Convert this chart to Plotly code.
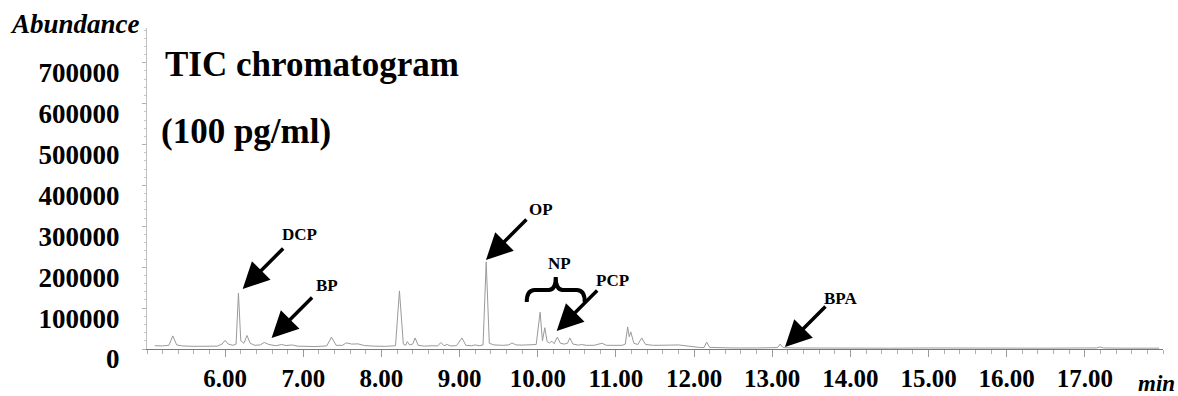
import plotly.graph_objects as go

# ---- chromatogram trace (retention time, abundance) ----
rt_min = [
    5.10, 5.20, 5.28, 5.33, 5.38, 5.45, 5.60, 5.75, 5.90, 5.96, 6.00, 6.04, 6.10, 6.14,
    6.17, 6.20, 6.24, 6.28, 6.32, 6.38, 6.45, 6.50, 6.56, 6.65, 6.72, 6.78, 6.86, 6.92,
    7.00, 7.15, 7.30, 7.36, 7.42, 7.50, 7.55, 7.62, 7.70, 7.78, 7.90, 8.05, 8.18, 8.23,
    8.28, 8.31, 8.33, 8.36, 8.40, 8.43, 8.47, 8.55, 8.65, 8.72, 8.76, 8.80, 8.84, 8.88,
    8.96, 9.03, 9.08, 9.15, 9.20, 9.25, 9.30, 9.34, 9.38, 9.44, 9.55, 9.63, 9.67, 9.72,
    9.80, 9.90, 9.98, 10.03, 10.06, 10.09, 10.12, 10.15, 10.18, 10.21, 10.25, 10.29,
    10.34, 10.38, 10.41, 10.45, 10.52, 10.56, 10.62, 10.72, 10.82, 10.88, 10.98, 11.08,
    11.12, 11.15, 11.17, 11.19, 11.23, 11.28, 11.33, 11.38, 11.48, 11.60, 11.70, 11.80,
    11.90, 12.00, 12.08, 12.13, 12.16, 12.20, 12.30, 12.50, 12.80, 13.00, 13.07, 13.10,
    13.14, 13.30, 13.60, 14.00, 14.50, 15.00, 15.50, 16.00, 16.50, 17.00, 17.15, 17.19,
    17.24, 17.50, 17.95,
]
abundance = [
    8000, 7500, 9000, 32000, 10000, 7500, 6500, 6000, 7000, 12000, 21000, 12000, 9000, 12000,
    137000, 20000, 14000, 33000, 14000, 9000, 10000, 16000, 11000, 8000, 11000, 8500, 10000, 7000,
    6500, 6000, 7500, 29000, 9000, 9000, 15000, 12000, 12500, 8500, 7000, 6500, 8000, 142000,
    12000, 9000, 18000, 10000, 12000, 27000, 9000, 7000, 8000, 7500, 16000, 8000, 11000, 7500,
    8000, 27000, 9000, 8000, 10000, 8000, 10000, 213000, 14000, 10000, 9000, 10000, 15000, 10000,
    9500, 10000, 11000, 90000, 20000, 52000, 18000, 15000, 19000, 13000, 29000, 14000,
    12000, 14000, 27000, 12000, 9500, 11000, 9000, 9000, 14000, 9000, 8500, 9000,
    12000, 54000, 30000, 42000, 14000, 11000, 27000, 11000, 9000, 8500, 9500, 10000,
    8000, 4500, 3500, 4000, 17000, 4000, 3000, 2500, 2500, 2500, 3500, 12000,
    3500, 2500, 2000, 2500, 2000, 2500, 2000, 2500, 2000, 2500, 2500, 5000,
    2500, 2000, 2000,
]

# ---- axis ticks ----
x_tick_vals = [6, 7, 8, 9, 10, 11, 12, 13, 14, 15, 16, 17]
x_tick_text = ["6.00", "7.00", "8.00", "9.00", "10.00", "11.00", "12.00",
               "13.00", "14.00", "15.00", "16.00", "17.00"]
y_tick_vals = [0, 100000, 200000, 300000, 400000, 500000, 600000, 700000]
y_tick_text = ["0", "100000", "200000", "300000", "400000", "500000", "600000", "700000"]

# ---- compound labels (arrow tip and label position in data units) ----
peak_names = ["DCP", "BP", "OP", "PCP", "BPA"]
tip_rt = [6.224, 6.594, 9.337, 10.242, 13.163]
tip_abund = [146700, 26900, 217600, 44000, 4900]
label_rt = [6.952, 7.309, 10.038, 10.957, 13.878]
label_abund = [281000, 156500, 342300, 168700, 124700]
np_label = "NP"
np_label_rt, np_label_abund = 10.281, 210300
np_brace_rt, np_brace_abund = 10.23, 144000

SERIF = "Liberation Serif"

fig = go.Figure()
fig.add_trace(go.Scatter(
    x=rt_min, y=abundance, mode="lines",
    line=dict(color="#9a9a9a", width=1),
    showlegend=False, hoverinfo="skip",
))

annotations = []
for name, tx, ty, lx, ly in zip(peak_names, tip_rt, tip_abund, label_rt, label_abund):
    annotations.append(dict(
        x=tx, y=ty, xref="x", yref="y", text="", showarrow=True,
        ax=42, ay=-42, axref="pixel", ayref="pixel",
        arrowhead=2, arrowsize=1.5, arrowwidth=3.5, arrowcolor="black", standoff=0,
    ))
    annotations.append(dict(
        x=lx, y=ly, xref="x", yref="y", text=f"<b>{name}</b>", showarrow=False,
        font=dict(family=SERIF, size=17, color="black"),
    ))
annotations.append(dict(
    x=np_label_rt, y=np_label_abund, xref="x", yref="y", text=f"<b>{np_label}</b>",
    showarrow=False, font=dict(family=SERIF, size=17, color="black"),
))
annotations += [
    dict(x=163, y=396 - 64, xref="paper", yref="paper", text="<b>TIC chromatogram</b>",
         showarrow=False, xanchor="left", yanchor="middle",
         font=dict(family=SERIF, size=35, color="black")),
    dict(x=159, y=396 - 131, xref="paper", yref="paper", text="<b>(100 pg/ml)</b>",
         showarrow=False, xanchor="left", yanchor="middle",
         font=dict(family=SERIF, size=35, color="black")),
    dict(x=8, y=396 - 24, xref="paper", yref="paper", text="<b><i>Abundance</i></b>",
         showarrow=False, xanchor="left", yanchor="middle",
         font=dict(family=SERIF, size=27, color="black")),
    dict(x=1177, y=396 - 384, xref="paper", yref="paper", text="<b><i>min</i></b>",
         showarrow=False, xanchor="right", yanchor="middle",
         font=dict(family=SERIF, size=23, color="black")),
]

# convert pixel-based paper annotations to paper fractions
W, H = 1178, 396
ML, MR, MT, MB = 147, 15, 28, 47
pw, ph = W - ML - MR, H - MT - MB
for a in annotations:
    if a.get("xref") == "paper":
        a["x"] = (a["x"] - ML) / pw
        a["y"] = (a["y"] - MB) / ph

fig.add_shape(
    type="path", xref="x", yref="y", xsizemode="pixel", ysizemode="pixel",
    xanchor=np_brace_rt, yanchor=np_brace_abund,
    path="M -29,-12 Q -29,0 -21,0 L -7,0 Q 0,0 0,13 Q 0,0 7,0 L 21,0 Q 29,0 29,-12",
    line=dict(color="black", width=4),
)

fig.update_layout(
    width=W, height=H,
    margin=dict(l=ML, r=MR, t=MT, b=MB, pad=0, autoexpand=False),
    paper_bgcolor="white", plot_bgcolor="white",
    annotations=annotations,
    showlegend=False,
)
fig.update_xaxes(
    range=[5.0, 18.0], showgrid=False, zeroline=False, automargin=False,
    showline=True, linecolor="#7a7a7a", linewidth=1,
    tickmode="array", tickvals=x_tick_vals, ticktext=x_tick_text,
    ticks="outside", ticklen=7, tickcolor="#9a9a9a", tickwidth=1,
    minor=dict(dtick=0.2, ticks="outside", ticklen=4, tickcolor="#b0b0b0"),
    tickfont=dict(family=SERIF, size=25, color="black", weight="bold"),
    ticklabelstandoff=0,
)
fig.update_yaxes(
    range=[0, 785000], showgrid=False, zeroline=False, automargin=False,
    showline=True, linecolor="#c0c0c0", linewidth=1,
    tickmode="array", tickvals=y_tick_vals, ticktext=y_tick_text,
    ticks="outside", ticklen=4, tickcolor="#b0b0b0", tickwidth=1,
    minor=dict(dtick=20000, ticks="outside", ticklen=2, tickcolor="#c8c8c8"),
    tickfont=dict(family=SERIF, size=27, color="black", weight="bold"),
    ticklabelstandoff=17, ticklabelshift=10,
)

fig.write_html(
    "out.html",
    config={"displayModeBar": False},
    post_script="document.body.style.margin='0';document.body.style.overflow='hidden';",
)
